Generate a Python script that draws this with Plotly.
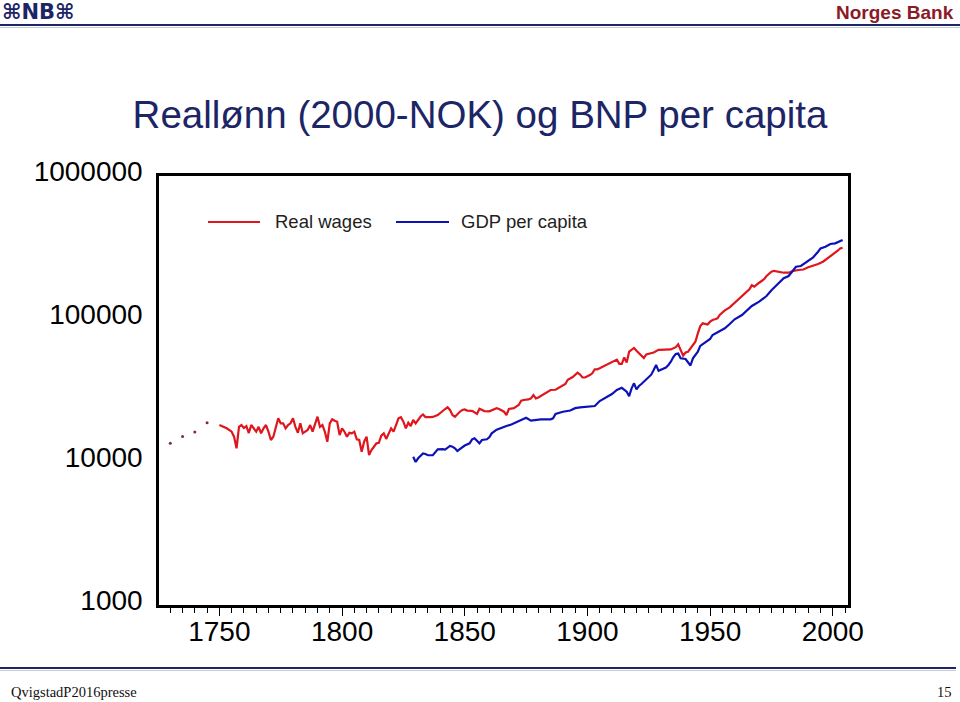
import plotly.graph_objects as go

# ---------------- data ----------------
early_years = [1730, 1735, 1740, 1745]
early_wages = [13510, 15100, 16220, 18820]

wage_years = [
    1750, 1753, 1755, 1756, 1757, 1758, 1759, 1760, 1761, 1762, 1763, 1765, 1766, 1767, 1768, 1769,
    1770, 1771, 1772, 1774, 1775, 1776, 1777, 1778, 1779, 1780, 1781, 1782, 1783, 1784, 1786, 1787,
    1788, 1789, 1790, 1791, 1792, 1793, 1794, 1795, 1796, 1797, 1798, 1799, 1800, 1801, 1802, 1803,
    1804, 1805, 1806, 1807, 1808, 1809, 1810, 1811, 1812, 1813, 1814, 1815, 1816, 1817, 1818, 1820,
    1821, 1822, 1823, 1824, 1825, 1826, 1827, 1828, 1829, 1830, 1831, 1832, 1833, 1834, 1836, 1837,
    1839, 1840, 1842, 1843, 1844, 1845, 1846, 1848, 1849, 1850, 1851, 1853, 1855, 1856, 1858, 1860,
    1862, 1863, 1864, 1865, 1866, 1867, 1868, 1870, 1872, 1873, 1874, 1876, 1877, 1878, 1879, 1880,
    1881, 1883, 1884, 1885, 1887, 1889, 1891, 1892, 1893, 1894, 1896, 1897, 1898, 1899, 1901, 1902,
    1903, 1904, 1905, 1907, 1908, 1910, 1912, 1913, 1914, 1915, 1916, 1917, 1918, 1919, 1920, 1922,
    1923, 1924, 1927, 1929, 1932, 1934, 1936, 1937, 1939, 1940, 1941, 1942, 1944, 1945, 1946, 1947,
    1949, 1950, 1951, 1952, 1953, 1954, 1956, 1958, 1960, 1962, 1964, 1966, 1967, 1968, 1970, 1972,
    1973, 1975, 1976, 1978, 1980, 1982, 1984, 1986, 1988, 1990, 1992, 1994, 1996, 1998, 2000, 2002,
    2003, 2004,
]
wages = [
    18140, 17200, 16290, 15030, 12470, 17620, 18140, 17290, 17850, 15950, 18140, 16290, 17620, 15870, 17200, 18140,
    16290, 14250, 15030, 20210, 18640, 18640, 17200, 18140, 18640, 20210, 17620, 16020, 18640, 15870, 16740, 18140,
    16290, 18640, 20740, 17620, 18140, 16290, 13860, 18640, 19890, 19450, 19140, 15440, 17200, 16290, 15030, 16000,
    15870, 16290, 14410, 14250, 11800, 13860, 15030, 11190, 12130, 12790, 13510, 13600, 15300, 15870, 14500, 17200,
    16290, 18140, 20200, 20550, 19140, 17200, 18820, 17850, 19660, 18640, 19890, 20800, 21500, 20600, 20600, 20650,
    21300, 22110, 23470, 24120, 23100, 21310, 20740, 22470, 23100, 23300, 22900, 22800, 21660, 23600, 22700, 22600,
    23300, 23800, 23470, 22900, 22470, 21300, 23470, 23800, 25030, 26820, 27130, 27400, 27850, 29400, 27850, 28290,
    29000, 30600, 31500, 31870, 32000, 33300, 35100, 37600, 38500, 39300, 42100, 40900, 39000, 39000, 40570, 41700,
    44500, 44500, 45200, 46900, 48200, 49800, 52000, 48600, 48500, 53800, 49700, 59100, 60700, 62700, 60000, 56000,
    53400, 56500, 58300, 60800, 61200, 61300, 63500, 66600, 55400, 58300, 59000, 62100, 69400, 79400, 89300, 93300,
    91600, 95800, 98400, 99500, 101100, 107200, 114800, 120700, 130000, 139500, 149600, 161300, 172000, 168500, 179300, 189600,
    199800, 214000, 217200, 214000, 210700, 210700, 217200, 220000, 222000, 229900, 234700, 242400, 251600, 265800, 280200, 300300,
    311700, 315000,
]

gdp_years = [
    1829, 1830, 1831, 1833, 1834, 1835, 1837, 1838, 1839, 1841, 1842, 1844, 1845, 1846, 1847, 1848,
    1849, 1850, 1852, 1853, 1854, 1856, 1857, 1859, 1860, 1861, 1863, 1865, 1867, 1869, 1872, 1874,
    1875, 1877, 1879, 1881, 1885, 1886, 1887, 1890, 1893, 1895, 1897, 1899, 1902, 1903, 1905, 1907,
    1910, 1912, 1914, 1916, 1917, 1918, 1919, 1920, 1921, 1922, 1924, 1926, 1927, 1928, 1929, 1931,
    1932, 1933, 1934, 1935, 1936, 1937, 1938, 1940, 1941, 1942, 1943, 1945, 1946, 1948, 1950, 1951,
    1954, 1956, 1958, 1960, 1963, 1965, 1967, 1970, 1973, 1975, 1978, 1980, 1982, 1984, 1985, 1987,
    1989, 1992, 1994, 1995, 1997, 1999, 2001, 2003, 2004,
]
gdp = [
    10890, 10000, 10610, 11470, 11370, 11150, 11150, 11620, 12250, 12300, 12200, 12940, 12800, 12470, 11940, 12300,
    12700, 13040, 13510, 14410, 14640, 13510, 14250, 14410, 14890, 15870, 16820, 17400, 17850, 18300, 19300, 19890,
    20400, 19450, 19660, 19890, 19890, 20200, 21660, 22470, 22900, 23800, 24120, 24350, 24500, 24630, 26700, 27850,
    29880, 31870, 33000, 31000, 28900, 32750, 35500, 32230, 34000, 35100, 37900, 40800, 44000, 47700, 43400, 45000,
    45800, 47700, 50300, 54200, 56900, 57300, 53100, 52500, 49800, 47300, 53100, 59000, 64900, 69050, 72500, 77300,
    82400, 86100, 92300, 99500, 106650, 115600, 123300, 132100, 144800, 158700, 179400, 192600, 199800, 220100, 232000, 234700,
    247600, 269900, 295500, 311800, 320000, 334500, 338000, 353000, 356700,
]

y_tick_vals = [1000, 10000, 100000, 1000000]
y_tick_text = ["1000", "10000", "100000", "1000000"]

title_text = "Reallønn (2000-NOK) og BNP per capita"
legend_labels = ["Real wages", "GDP per capita"]

# ---------------- styling ----------------
RED = "#e0161e"
BLUE = "#0c12b8"
NAVY = "#1c2566"
FONT = "Liberation Sans"

W, H = 960, 702
L, R, T, B = 159, 112, 176, 97
PW, PH = W - L - R, H - T - B


def PX(x):
    return (x - L) / PW


def PY(y):
    return (H - B - y) / PH


fig = go.Figure()
fig.add_trace(go.Scatter(x=early_years, y=early_wages, mode="markers", xaxis="x2",
                         marker=dict(size=3, color="#7b2d3b"),
                         name="Real wages (early)", showlegend=False))
fig.add_trace(go.Scatter(x=wage_years, y=wages, mode="lines",
                         line=dict(color=RED, width=2.2),
                         name=legend_labels[0], showlegend=False))
fig.add_trace(go.Scatter(x=gdp_years, y=gdp, mode="lines",
                         line=dict(color=BLUE, width=2.2),
                         name=legend_labels[1], showlegend=False))

shapes = [
    # header rules
    dict(type="line", xref="paper", yref="paper", x0=PX(0), x1=PX(960), y0=PY(25), y1=PY(25),
         line=dict(color=NAVY, width=2)),
    dict(type="line", xref="paper", yref="paper", x0=PX(0), x1=PX(960), y0=PY(27.5), y1=PY(27.5),
         line=dict(color="#c8c8d4", width=1)),
    # footer rules
    dict(type="line", xref="paper", yref="paper", x0=PX(0), x1=PX(956), y0=PY(668), y1=PY(668),
         line=dict(color=NAVY, width=2)),
    dict(type="line", xref="paper", yref="paper", x0=PX(0), x1=PX(956), y0=PY(670.5), y1=PY(670.5),
         line=dict(color="#c8c8d4", width=1)),
    # legend samples
    dict(type="line", xref="paper", yref="paper", x0=PX(208), x1=PX(260), y0=PY(222), y1=PY(222),
         line=dict(color=RED, width=2)),
    dict(type="line", xref="paper", yref="paper", x0=PX(396), x1=PX(449), y0=PY(222), y1=PY(222),
         line=dict(color=BLUE, width=2)),
]

annotations = [
    dict(text="<b>⌘NB⌘</b>", xref="paper", yref="paper", x=PX(0), y=PY(12), xanchor="left",
         yanchor="middle", showarrow=False, font=dict(family="DejaVu Sans", size=21, color=NAVY)),
    dict(text="<b>Norges Bank</b>", xref="paper", yref="paper", x=PX(956), y=PY(12), xanchor="right",
         yanchor="middle", showarrow=False, font=dict(family=FONT, size=19, color="#8b1a26")),
    dict(text=legend_labels[0], xref="paper", yref="paper", x=PX(273), y=PY(221), xanchor="left",
         yanchor="middle", showarrow=False, font=dict(family=FONT, size=18.5, color="#222222")),
    dict(text=legend_labels[1], xref="paper", yref="paper", x=PX(459), y=PY(221), xanchor="left",
         yanchor="middle", showarrow=False, font=dict(family=FONT, size=18.5, color="#222222")),
    dict(text="QvigstadP2016presse", xref="paper", yref="paper", x=PX(9), y=PY(692), xanchor="left",
         yanchor="middle", showarrow=False, font=dict(family="Liberation Serif", size=14.5, color="#111111")),
    dict(text="15", xref="paper", yref="paper", x=PX(954), y=PY(692), xanchor="right",
         yanchor="middle", showarrow=False, font=dict(family="Liberation Serif", size=14.5, color="#111111")),
]

fig.update_layout(
    width=W, height=H,
    margin=dict(l=L, r=R, t=T, b=B, pad=0),
    paper_bgcolor="white", plot_bgcolor="white",
    showlegend=False,
    title=dict(text=title_text, x=0.5, xanchor="center", xref="container",
               y=1 - 115 / H, yanchor="middle", yref="container",
               font=dict(family=FONT, size=38.5, color=NAVY)),
    shapes=shapes,
    annotations=annotations,
    xaxis=dict(
        range=[1725.4, 2006.2], tickmode="linear", tick0=1750, dtick=50,
        ticks="",
        minor=dict(dtick=5, ticks="outside", ticklen=5, tickwidth=1, tickcolor="black", showgrid=False),
        showline=True, linewidth=2.5, linecolor="black", mirror=True,
        showgrid=False, zeroline=False,
        tickfont=dict(family=FONT, size=28, color="black"),
    ),
    xaxis2=dict(
        overlaying="x", matches="x", anchor="y", side="bottom",
        tickmode="linear", tick0=1750, dtick=50,
        ticks="outside", ticklen=10, tickwidth=1.3, tickcolor="black",
        showticklabels=False, showline=False, showgrid=False, zeroline=False,
    ),
    yaxis=dict(
        type="log", range=[3, 6], tickvals=y_tick_vals, ticktext=y_tick_text,
        ticks="outside", ticklen=8, tickcolor="rgba(0,0,0,0)",
        ticklabelshift=-5,
        showline=True, linewidth=2.5, linecolor="black", mirror=True,
        showgrid=False, zeroline=False,
        tickfont=dict(family=FONT, size=28, color="black"),
    ),
)

fig.write_html("out.html")
